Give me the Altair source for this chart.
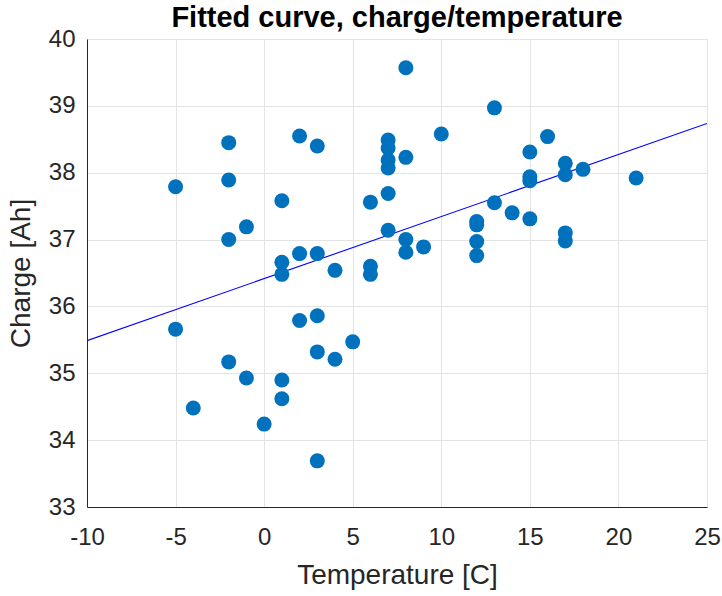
import altair as alt
import pandas as pd

temperature = [-5, -5, -4, -2, -2, -2, -2, -1, -1, 0,
               1, 1, 1, 1, 1, 2, 2, 2, 3, 3, 3, 3, 3,
               4, 4, 5, 6, 6, 6,
               7, 7, 7, 7, 7, 7,
               8, 8, 8, 8, 9, 10,
               12, 12, 12, 12, 13, 13, 14,
               15, 15, 15, 15, 16,
               17, 17, 17, 17, 18, 21]
charge = [37.79, 35.66, 34.48, 38.45, 37.89, 37.00, 35.17, 37.19, 34.93, 34.24,
          37.58, 36.66, 36.48, 34.90, 34.62, 38.55, 36.79, 35.79, 38.40, 36.79, 35.86, 35.32, 33.69,
          36.54, 35.21, 35.47, 37.56, 36.60, 36.48,
          38.49, 38.37, 38.19, 38.07, 37.69, 37.14,
          39.57, 38.23, 37.00, 36.81, 36.89, 38.58,
          37.27, 37.22, 36.97, 36.76, 38.97, 37.55, 37.40,
          38.31, 37.94, 37.88, 37.31, 38.54,
          38.14, 37.97, 37.10, 36.98, 38.05, 37.92]

x_ticks = [-10, -5, 0, 5, 10, 15, 20, 25]
y_ticks = [33, 34, 35, 36, 37, 38, 39, 40]

df = pd.DataFrame({"Temperature": temperature, "Charge": charge})

FONT = "Liberation Sans"

xscale = alt.Scale(domain=[-10, 25], nice=False, zero=False)
yscale = alt.Scale(domain=[33, 40], nice=False, zero=False)

common = dict(labelFont=FONT, titleFont=FONT, labelColor="#262626", titleColor="#262626",
              titleFontWeight="normal", domainColor="#262626", ticks=False,
              gridColor="#e3e3e3", labelExpr="'' + datum.value", labelFlush=False,
              labelOverlap=False)

xaxis = alt.Axis(values=x_ticks, title="Temperature [C]", labelFontSize=24, titleFontSize=28,
                 labelPadding=18, titlePadding=12, **common)
yaxis = alt.Axis(values=y_ticks, title="Charge [Ah]", labelFontSize=24, titleFontSize=28,
                 labelPadding=12, titlePadding=13, **common)

points = alt.Chart(df).mark_circle(size=225, color="#0072BD", opacity=1).encode(
    x=alt.X("Temperature:Q", scale=xscale, axis=xaxis),
    y=alt.Y("Charge:Q", scale=yscale, axis=yaxis),
)

fit = alt.Chart(df).transform_regression(
    "Temperature", "Charge", extent=[-10, 25]
).mark_line(color="#0000FF", strokeWidth=1.1, clip=True).encode(
    x=alt.X("Temperature:Q", scale=xscale),
    y=alt.Y("Charge:Q", scale=yscale),
)

chart = alt.layer(fit, points).properties(
    width=620, height=468,
    autosize=alt.AutoSizeParams(type="none"),
    padding={"left": 87, "top": 39, "right": 15, "bottom": 89},
    title=alt.Title("Fitted curve, charge/temperature", fontSize=29, font=FONT,
                    fontWeight="bold", color="#000000", anchor="middle", offset=6, dy=12),
).configure_view(stroke="#e3e3e3", strokeWidth=1).configure(background="white")

chart.save("out.html", embed_options={"renderer": "svg", "actions": False})
